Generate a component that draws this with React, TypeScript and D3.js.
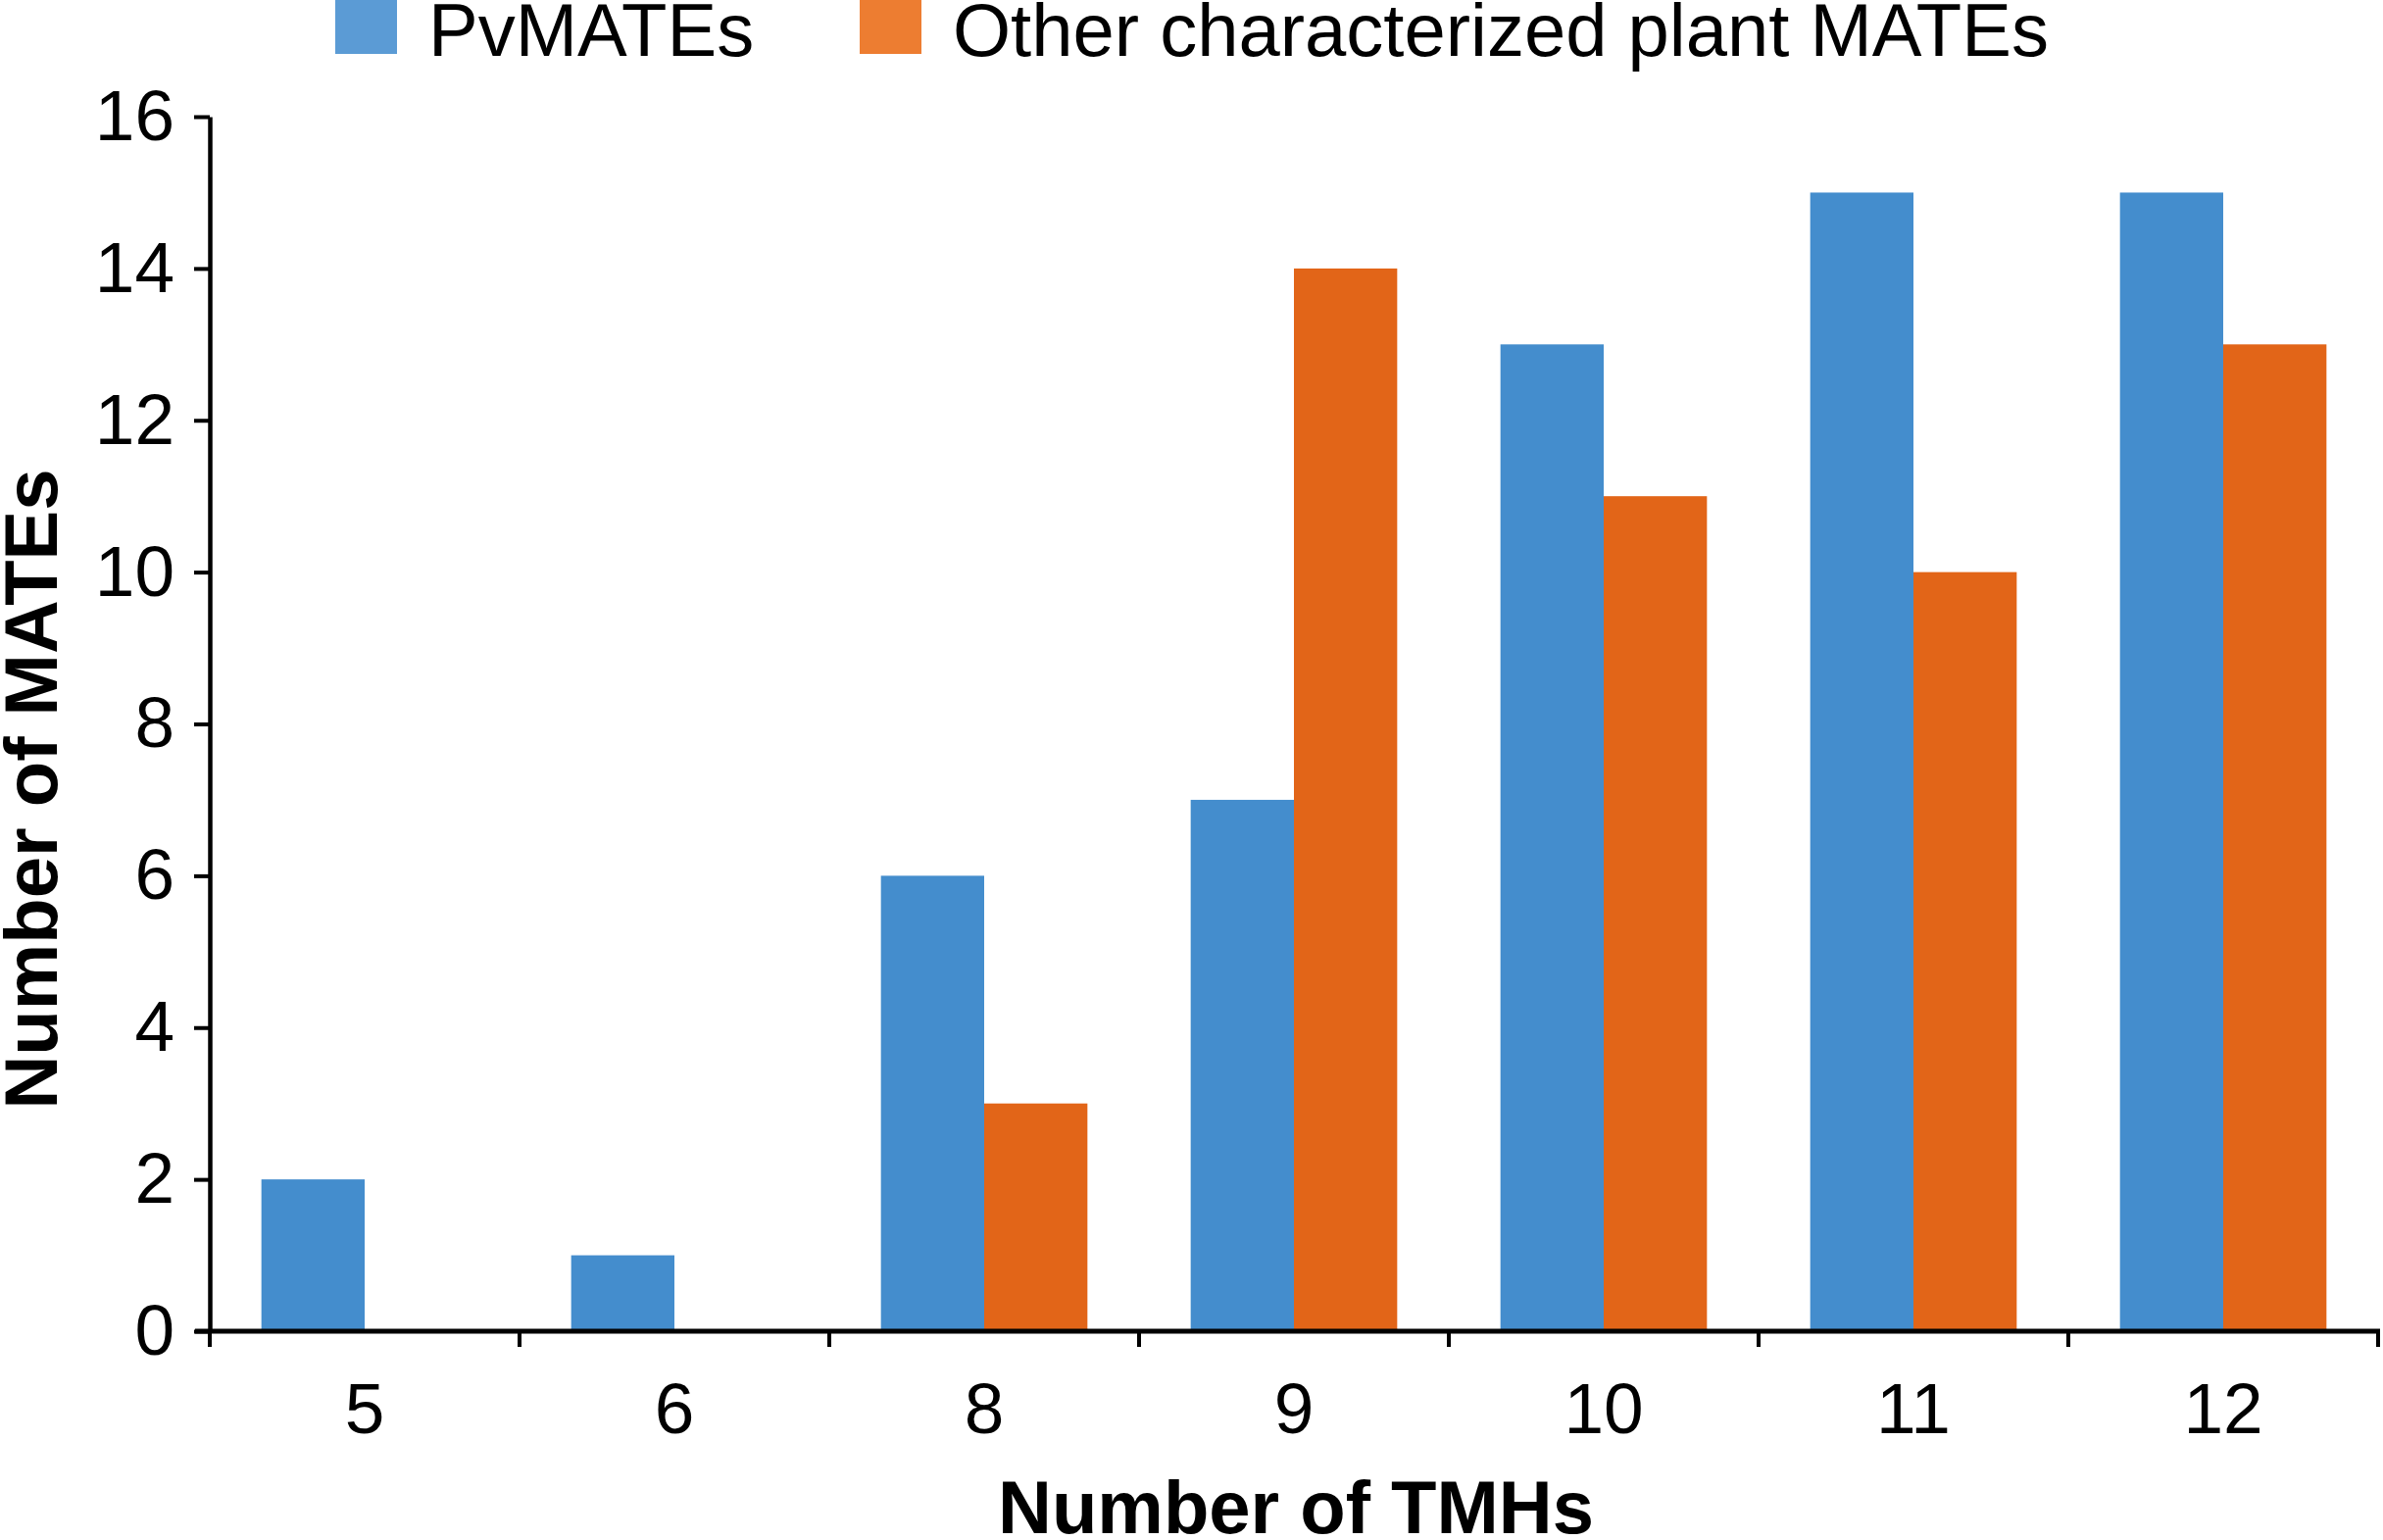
import React, { useEffect, useRef } from 'react'
import * as d3 from 'd3'

const categories = ['5', '6', '8', '9', '10', '11', '12']
const pvMates = [2, 1, 6, 7, 13, 15, 15]
const otherMates = [0, 0, 3, 14, 11, 10, 13]
const seriesNames = ['PvMATEs', 'Other characterized plant MATEs']
const yTicks = [0, 2, 4, 6, 8, 10, 12, 14, 16]

const W = 2431
const H = 1571
const barColors = ['#448dcd', '#e26518']
const legendColors = ['#5b9bd5', '#ed7d31']
const font = "'Liberation Sans', Arial, Helvetica, sans-serif"

const App = () => {
  const svgRef = useRef<SVGSVGElement>(null)

  useEffect(() => {
    const svg = d3.select(svgRef.current)
    svg.selectAll('*').remove()

    const x = d3.scaleBand<string>()
      .domain(categories)
      .range([214, 2426])
      .paddingInner(1 / 3)
      .paddingOuter(1 / 6)
    const xs = d3.scaleBand<number>()
      .domain([0, 1])
      .range([0, x.bandwidth()])
    const y = d3.scaleLinear().domain([0, 16]).range([1358, 119])

    const rows = categories.map((c, i) => ({ cat: c, vals: [pvMates[i], otherMates[i]] }))

    // bars
    const groups = svg.append('g')
      .selectAll('g')
      .data(rows)
      .join('g')
      .attr('transform', d => `translate(${x(d.cat)},0)`)
    groups.selectAll('rect')
      .data(d => d.vals.map((v, s) => ({ v, s })))
      .join('rect')
      .attr('x', d => xs(d.s)!)
      .attr('width', xs.bandwidth())
      .attr('y', d => y(d.v))
      .attr('height', d => y(0) - y(d.v))
      .attr('fill', d => barColors[d.s])

    // y axis
    const yAxis = svg.append('g')
      .attr('transform', 'translate(214,0)')
      .call(d3.axisLeft(y).tickValues(yTicks).tickSize(16).tickSizeOuter(0).tickPadding(20))
    yAxis.select('.domain').attr('stroke', '#000').attr('stroke-width', 4.5)
    yAxis.selectAll('.tick line').attr('stroke', '#000').attr('stroke-width', 4)
    yAxis.selectAll('.tick text')
      .attr('font-family', font)
      .attr('font-size', 73)
      .attr('fill', '#000')

    // x axis: labels at band centres, ticks at band edges
    const xAxis = svg.append('g')
      .attr('transform', 'translate(0,1358)')
      .call(d3.axisBottom(x).tickSize(0).tickPadding(52))
    xAxis.select('.domain').remove()
    xAxis.selectAll('.tick text')
      .attr('font-family', font)
      .attr('font-size', 73)
      .attr('fill', '#000')

    const edge = (x.step() - x.bandwidth()) / 2
    const bounds = categories.map(c => x(c)! - edge).concat([x(categories[categories.length - 1])! + x.bandwidth() + edge])
    svg.append('line')
      .attr('x1', bounds[0] - 15).attr('x2', bounds[bounds.length - 1] + 2)
      .attr('y1', 1358).attr('y2', 1358)
      .attr('stroke', '#000').attr('stroke-width', 5)
    svg.append('g')
      .selectAll('line')
      .data(bounds)
      .join('line')
      .attr('x1', d => d).attr('x2', d => d)
      .attr('y1', 1358).attr('y2', 1374)
      .attr('stroke', '#000').attr('stroke-width', 4)

    // axis titles
    svg.append('text')
      .attr('x', 1322).attr('y', 1564)
      .attr('text-anchor', 'middle')
      .attr('font-family', font).attr('font-weight', 'bold').attr('font-size', 76)
      .text('Number of TMHs')
    svg.append('text')
      .attr('transform', 'translate(58,805) rotate(-90)')
      .attr('text-anchor', 'middle')
      .attr('font-family', font).attr('font-weight', 'bold').attr('font-size', 76)
      .text('Number of MATEs')

    // legend
    const legendX = [342, 877]
    const legend = svg.append('g')
      .selectAll('g')
      .data(seriesNames)
      .join('g')
      .attr('transform', (_, i) => `translate(${legendX[i]},0)`)
    legend.append('rect')
      .attr('x', 0).attr('y', -8)
      .attr('width', 63).attr('height', 63)
      .attr('fill', (_, i) => legendColors[i])
    legend.append('text')
      .attr('x', 95).attr('y', 57)
      .attr('font-family', font).attr('font-size', 76)
      .text(d => d)
  }, [])

  return (
    <svg
      ref={svgRef}
      width={W}
      height={H}
      style={{ position: 'absolute', left: 0, top: 0, background: '#fff' }}
    />
  )
}

export default App
